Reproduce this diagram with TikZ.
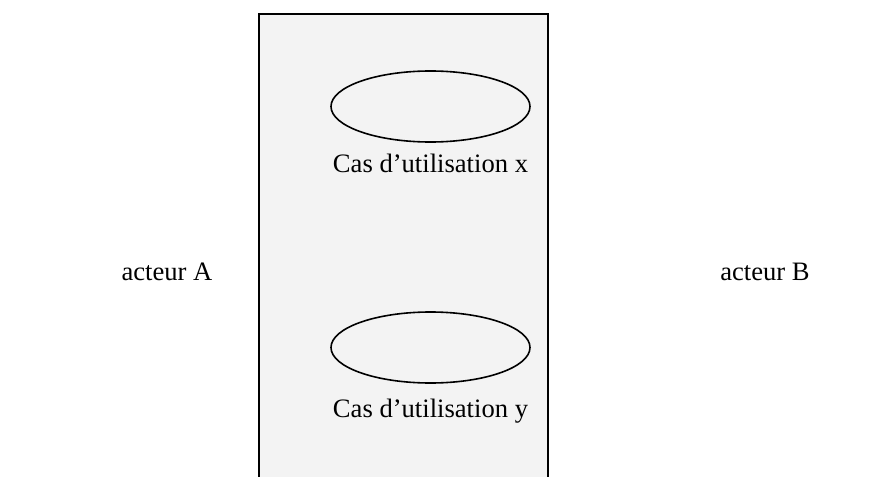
\documentclass[tikz,border=0pt]{standalone}
\usepackage{fontspec}
\setmainfont{Liberation Serif}
\usetikzlibrary{shapes.geometric}
\definecolor{sysfill}{HTML}{F3F3F3}
\tikzset{
  usecase/.style={draw=black, line width=1.6pt, ellipse, minimum width=199pt, minimum height=71pt, inner sep=0pt},
  lbl/.style={font=\fontsize{26.6}{32}\selectfont, inner sep=0pt, text=black},
  sysbox/.style={draw=black, line width=1.6pt, fill=sysfill, minimum width=289pt, minimum height=500pt, anchor=north west, inner sep=0pt}
}
\begin{document}
\begin{tikzpicture}[x=1pt,y=-1pt]
\useasboundingbox (0,0) rectangle (877,476);
\clip (0,0) rectangle (877,476);
\fill[white] (0,0) rectangle (877,476);
\node[sysbox] (sys) at (258,13) {};
\node[usecase] (ucx) at (430.5,106.5) {};
\node[usecase] (ucy) at (430.5,347.5) {};
\node[lbl, anchor=base] (lx) at (430.5,172) {Cas d’utilisation x};
\node[lbl, anchor=base] (ly) at (430.5,417) {Cas d’utilisation y};
\node[lbl, anchor=base] (aa) at (167,280) {acteur A};
\node[lbl, anchor=base] (ab) at (765,280) {acteur B};
\end{tikzpicture}
\end{document}
